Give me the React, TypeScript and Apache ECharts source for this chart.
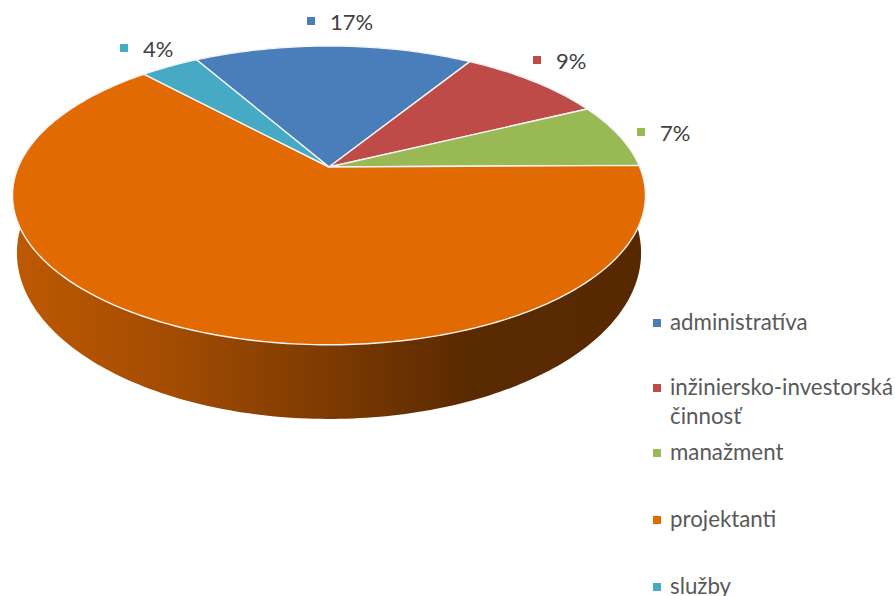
import React, { useEffect, useRef } from "react";
import * as echarts from "echarts";

const categories = ["administratíva", "inžiniersko-investorská\nčinnosť", "manažment", "projektanti", "služby"];
const shares = [17.1, 9, 7, 63.3, 3.6];
const colors = ["#4A7EBB", "#BE4B48", "#98B954", "#E16A03", "#46AAC5"];
const valueLabels = ["17%", "9%", "7%", "63%", "4%"];

const startDeg = -29.8;
const TOP = { cx: 329, cy: 167, A: 310.7, B: 144, k: -0.19 };
const BASE = { cx: 329, cy: 221.4, A: 306.4, B: 160, k: -0.19 };

const labelAnchors = [
  { x: 311, y: 21 },
  { x: 537, y: 60 },
  { x: 641, y: 132 },
  { x: 242, y: 238 },
  { x: 124, y: 48 },
];
const legendRows = [321, 386, 451, 518, 585];

const FONT = "Lato";
const total = shares.reduce((a, b) => a + b, 0);

function sliceRange(i: number) {
  let before = 0;
  for (let j = 0; j < i; j++) before += shares[j];
  const a = startDeg + (before / total) * 360;
  return [a, a + (shares[i] / total) * 360];
}

function project(deg: number, p: typeof TOP) {
  const t = (deg * Math.PI) / 180;
  const x = Math.sin(t);
  const y = -Math.cos(t);
  const d = 1 + p.k * y;
  return [p.cx + (p.A * x) / d, p.cy + (p.B * y) / d];
}

function arc(a: number, b: number, p: typeof TOP) {
  const pts: number[][] = [];
  const n = Math.max(2, Math.ceil(b - a));
  for (let i = 0; i <= n; i++) pts.push(project(a + ((b - a) * i) / n, p));
  return pts;
}

function shade(hex: number | string, f: number) {
  const c = echarts.color.parse(String(hex));
  return `rgb(${Math.round(c[0] * f)},${Math.round(c[1] * f)},${Math.round(c[2] * f)})`;
}

export default function App() {
  const ref = useRef<HTMLDivElement>(null);
  useEffect(() => {
    const chart = echarts.init(ref.current!, undefined, { renderer: "svg" });
    const rows = shares.map((v, i) => ({ value: v, name: categories[i] }));

    const graphics: any[] = [];
    shares.forEach((_, i) => {
      const { x, y } = labelAnchors[i];
      if (i === 3) {
        graphics.push({ type: "rect", shape: { x: x - 9, y: y - 9, width: 18, height: 18, r: 2 }, style: { fill: "#fff" } });
      }
      graphics.push({ type: "rect", shape: { x: x - 4, y: y - 4, width: 8, height: 8 }, style: { fill: colors[i] } });
      graphics.push({
        type: "text",
        x: x + 19,
        y,
        style: { text: valueLabels[i], font: `22px ${FONT}`, fill: "#404040", verticalAlign: "middle" },
      });
      const ly = legendRows[i];
      graphics.push({ type: "rect", shape: { x: 653, y: ly - 2, width: 8, height: 8 }, style: { fill: colors[i] } });
      categories[i].split("\n").forEach((line, li) => {
        graphics.push({
          type: "text",
          x: 670,
          y: ly + li * 29,
          style: { text: line, font: `22.3px ${FONT}`, lineHeight: 20, fill: "#595959", verticalAlign: "middle" },
        });
      });
    });

    chart.setOption({
      animation: false,
      backgroundColor: "#fff",
      series: [
        {
          type: "custom",
          coordinateSystem: "none",
          silent: true,
          data: rows,
          renderItem: (params: any) => {
            const [a, b] = sliceRange(params.dataIndex);
            const c = colors[params.dataIndex];
            const points = arc(a, b, TOP).concat(arc(a, b, BASE).reverse());
            return {
              type: "polygon",
              shape: { points },
              style: {
                fill: new echarts.graphic.LinearGradient(
                  15, 0, 645, 0,
                  [
                    { offset: 0, color: shade(c, 0.84) },
                    { offset: 0.25, color: shade(c, 0.72) },
                    { offset: 0.5, color: shade(c, 0.55) },
                    { offset: 0.72, color: shade(c, 0.4) },
                    { offset: 1, color: shade(c, 0.39) },
                  ],
                  true
                ),
              },
            };
          },
        },
        {
          type: "custom",
          coordinateSystem: "none",
          silent: true,
          data: rows,
          renderItem: (params: any) => {
            const [a, b] = sliceRange(params.dataIndex);
            const points = [[TOP.cx, TOP.cy], ...arc(a, b, TOP)];
            return {
              type: "polygon",
              shape: { points },
              style: { fill: colors[params.dataIndex], stroke: "#F4F4F4", lineWidth: 1.4, lineJoin: "round" },
            };
          },
        },
      ],
      graphic: { elements: graphics },
    });
    return () => chart.dispose();
  }, []);
  return <div ref={ref} style={{ position: "absolute", left: 0, top: 0, width: 895, height: 596 }} />;
}
